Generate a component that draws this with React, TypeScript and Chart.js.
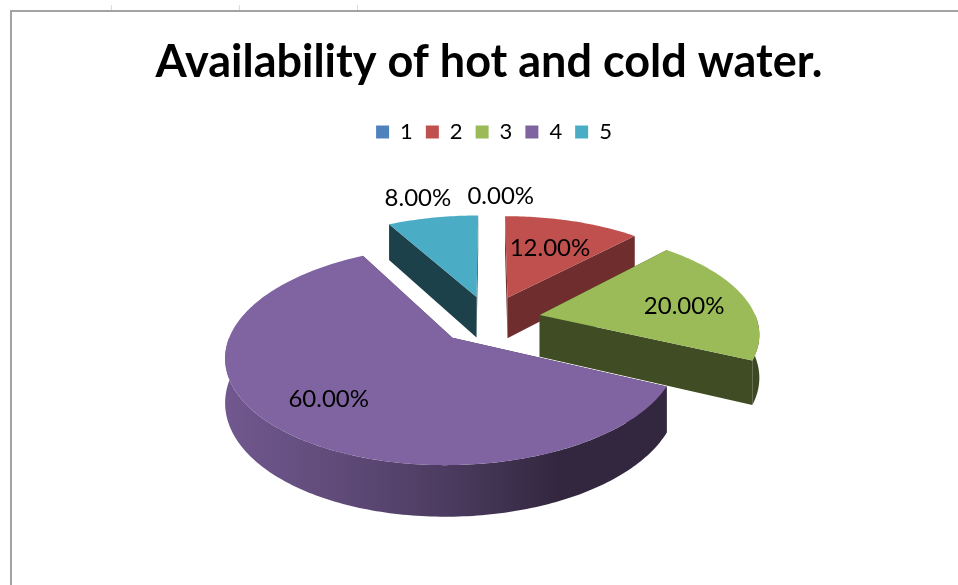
import React, { useEffect, useRef } from "react";
import { Chart, registerables } from "chart.js";

Chart.register(...registerables);

const titleText = "Availability of hot and cold water.";
const categories = ["1", "2", "3", "4", "5"];
const shares = [0, 12, 20, 60, 8];
const sliceColors = ["#4F81BD", "#C0504D", "#9BBB59", "#8064A2", "#4BACC6"];
const faceShade = [0.5, 0.58, 0.41, 0.42, 0.38];
// label placement relative to the slice: radius fraction and small angle nudge (degrees)
const labelRadius = [1.28, 0.62, 0.69, 0.72, 1.3];
const labelAngleNudge = [3, 0, 3, 0, -1];

const PIE_RADIUS = 217;
const EXPLODE = 52;
const TILT = 0.465;
const PERSPECTIVE = 0.00073;
const DEPTH = 42;
const FONT = "Lato, Carlito, sans-serif";

const hexRgb = (hex: string) => [1, 3, 5].map((i) => parseInt(hex.slice(i, i + 2), 16));
const shade = (hex: string, m: number) => {
  const [r, g, b] = hexRgb(hex);
  return `rgb(${Math.round(r * m)},${Math.round(g * m)},${Math.round(b * m)})`;
};

const pie3d = {
  id: "pie3d",
  afterLayout(chart: any) {
    if (chart.legend) {
      chart.legend.left += 5;
      chart.legend.right += 5;
    }
  },
  beforeDatasetsDraw(chart: any) {
    const ctx: CanvasRenderingContext2D = chart.ctx;
    const meta = chart.getDatasetMeta(0);
    const project = (cx: number, cy: number, u: number, v: number, z: number) => {
      const w = 1 + PERSPECTIVE * v;
      return [cx + u / w, cy + (-TILT * v + z) / w];
    };
    const items = meta.data.map((el: any, i: number) => {
      const p = el.getProps(["x", "y", "startAngle", "endAngle", "outerRadius"], true);
      const mid = (p.startAngle + p.endAngle) / 2;
      const off = el.options.offset || 0;
      return { i, p, mid, u0: Math.cos(mid) * off, v0: -Math.sin(mid) * off };
    });
    const order = [...items].sort((a: any, b: any) => b.v0 - a.v0);

    order.forEach(({ i, p, u0, v0 }: any) => {
      if (shares[i] === 0) return;
      const color = sliceColors[i];
      const R = p.outerRadius;
      const rim = (from: number, to: number, z: number) => {
        const pts: number[][] = [];
        const n = Math.max(2, Math.ceil(((to - from) * 180) / Math.PI));
        for (let k = 0; k <= n; k++) {
          const a = from + ((to - from) * k) / n;
          pts.push(project(p.x, p.y, u0 + Math.cos(a) * R, v0 - Math.sin(a) * R, z));
        }
        return pts;
      };
      const top = rim(p.startAngle, p.endAngle, 0);
      const bottom = rim(p.startAngle, p.endAngle, DEPTH);
      const apexT = project(p.x, p.y, u0, v0, 0);
      const apexB = project(p.x, p.y, u0, v0, DEPTH);
      const poly = (pts: number[][], fill: any) => {
        ctx.beginPath();
        pts.forEach(([x, y], k) => (k ? ctx.lineTo(x, y) : ctx.moveTo(x, y)));
        ctx.closePath();
        ctx.fillStyle = fill;
        ctx.fill();
      };
      // radial faces
      poly([apexT, top[0], bottom[0], apexB], shade(color, faceShade[i]));
      poly([apexT, top[top.length - 1], bottom[bottom.length - 1], apexB], shade(color, faceShade[i]));
      // curved outer wall: only the part facing the viewer, lit from the left
      const from = Math.max(p.startAngle, 0);
      const to = Math.min(p.endAngle, Math.PI);
      if (to > from) {
        const gx0 = p.x - 264;
        const gx1 = p.x + 70;
        const grad = ctx.createLinearGradient(gx0, 0, gx1, 0);
        grad.addColorStop(0, shade(color, 0.88));
        grad.addColorStop(0.35, shade(color, 0.74));
        grad.addColorStop(0.65, shade(color, 0.6));
        grad.addColorStop(1, shade(color, 0.39));
        poly([...rim(from, to, 0), ...rim(from, to, DEPTH).reverse()], grad);
      }
      // top surface
      poly([apexT, ...top], color);
    });

    ctx.save();
    ctx.font = `24px ${FONT}`;
    ctx.fillStyle = "#000";
    ctx.textAlign = "center";
    ctx.textBaseline = "middle";
    items.forEach(({ i, p, mid, u0, v0 }: any) => {
      const a = mid + (labelAngleNudge[i] * Math.PI) / 180;
      const r = p.outerRadius * labelRadius[i];
      const [x, y] = project(p.x, p.y, u0 + Math.cos(a) * r, v0 - Math.sin(a) * r, 0);
      ctx.fillText(`${shares[i].toFixed(2)}%`, x, y);
    });
    ctx.restore();
    return false;
  },
};

const sheetFrame = {
  id: "sheetFrame",
  beforeDraw(chart: any) {
    const ctx: CanvasRenderingContext2D = chart.ctx;
    ctx.save();
    ctx.fillStyle = "#fff";
    ctx.fillRect(0, 0, chart.width, chart.height);
    ctx.strokeStyle = "#d3dae4";
    ctx.lineWidth = 1;
    [112, 240, 358].forEach((x) => {
      ctx.beginPath();
      ctx.moveTo(x - 0.5, 5);
      ctx.lineTo(x - 0.5, 10);
      ctx.stroke();
    });
    ctx.strokeStyle = "#a3a3a3";
    ctx.lineWidth = 2;
    ctx.beginPath();
    ctx.moveTo(chart.width, 11);
    ctx.lineTo(11, 11);
    ctx.lineTo(11, chart.height);
    ctx.stroke();
    ctx.restore();
  },
};

export default function App() {
  const ref = useRef<HTMLCanvasElement>(null);
  useEffect(() => {
    document.body.style.margin = "0";
    const chart = new Chart(ref.current!, {
      type: "pie",
      data: {
        labels: categories,
        datasets: [
          {
            data: shares,
            backgroundColor: sliceColors,
            borderWidth: 0,
            offset: EXPLODE,
            radius: PIE_RADIUS,
          } as any,
        ],
      },
      options: {
        responsive: false,
        animation: false,
        devicePixelRatio: 1,
        radius: PIE_RADIUS,
        layout: { padding: { left: 20, right: 0, top: 0, bottom: 99 } },
        plugins: {
          tooltip: { enabled: false },
          title: {
            display: true,
            text: titleText,
            fullSize: false,
            color: "#000",
            font: { family: FONT, size: 45, weight: "bold" },
            padding: { top: 35, bottom: 19 },
          },
          legend: {
            position: "top",
            fullSize: false,
            labels: {
              boxWidth: 13,
              boxHeight: 13,
              padding: 13,
              color: "#000",
              font: { family: FONT, size: 22 },
            },
          },
        },
      } as any,
      plugins: [sheetFrame, pie3d],
    });
    return () => chart.destroy();
  }, []);
  return <canvas ref={ref} width={958} height={585} style={{ display: "block" }} />;
}
